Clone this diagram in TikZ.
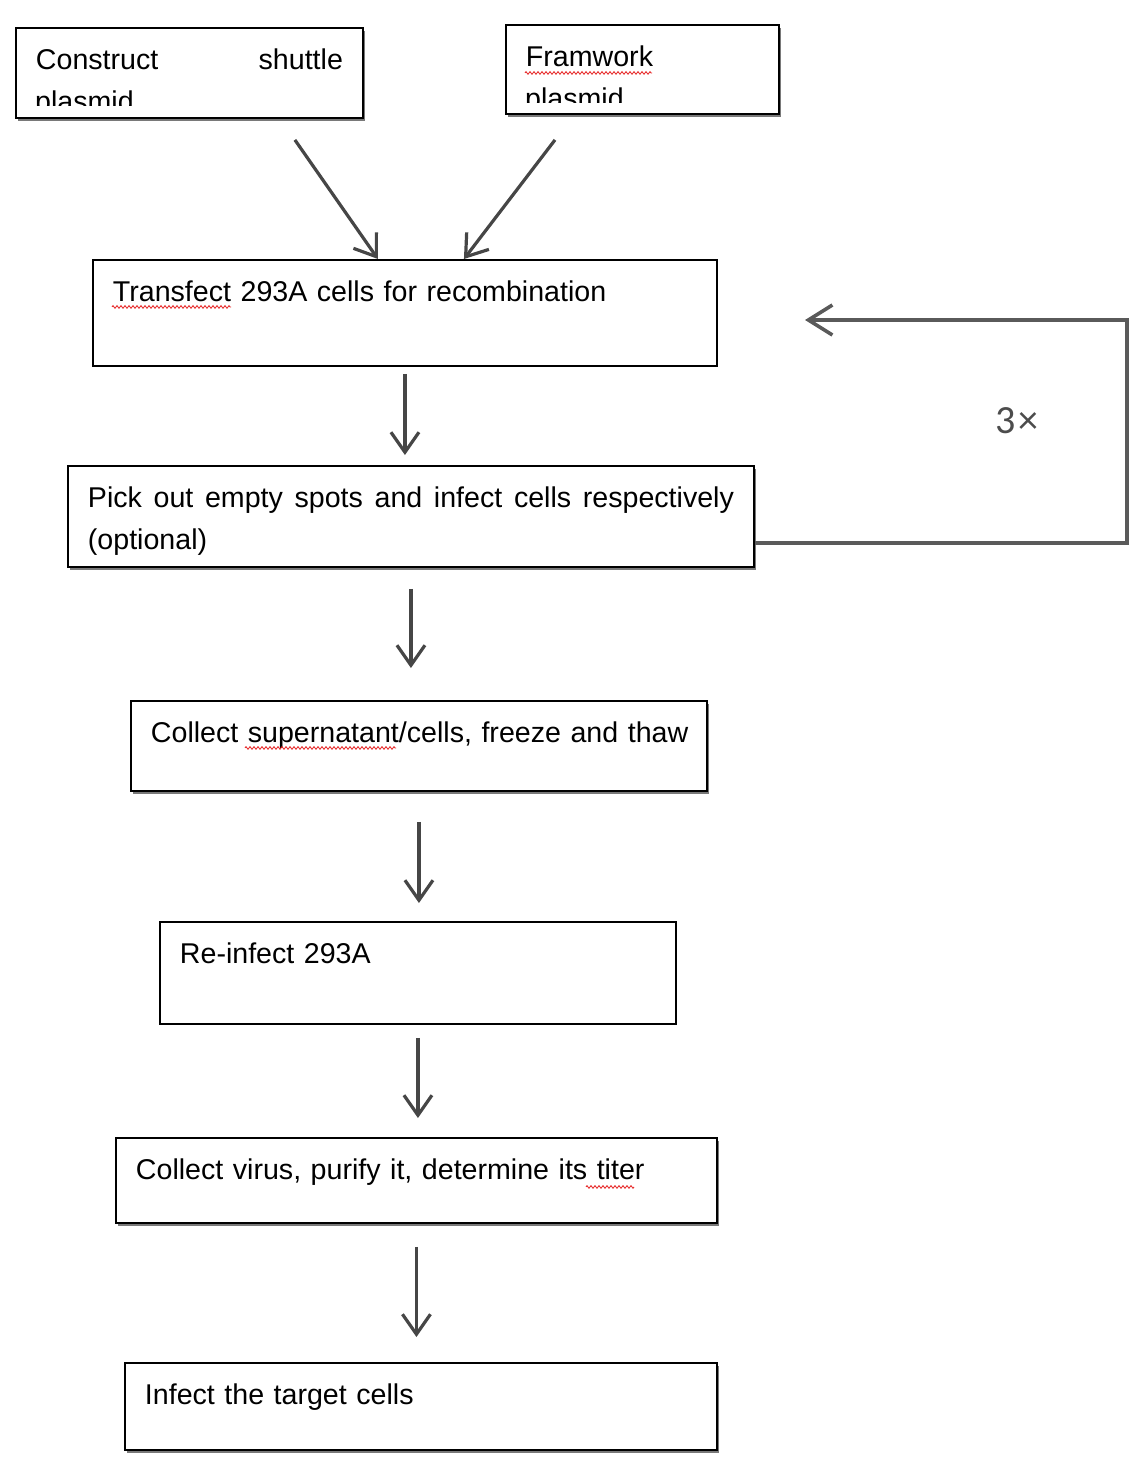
\documentclass[tikz,border=0pt]{standalone}
\usepackage{fontspec}
\setmainfont{Liberation Sans}
\newfontfamily\calibfont{Carlito}
\usetikzlibrary{positioning,calc,arrows.meta,shadows,decorations.pathmorphing}
\definecolor{arrowGray}{RGB}{70,70,70}
\definecolor{loopGray}{RGB}{90,90,90}
\definecolor{spellRed}{RGB}{230,30,30}

\begin{document}
\begin{tikzpicture}[
    x=1pt, y=-1pt,
    font=\fontsize{28.6}{42}\selectfont,
    stepbox/.style={draw, line width=1.9pt, fill=white, anchor=north west, inner xsep=20pt, inner ysep=0pt, text height=42pt, align=left},
    shadowed/.style={drop shadow={shadow xshift=2pt, shadow yshift=-3.5pt, opacity=0.75, fill=black!70}},
    arr/.style={-{Straight Barb[length=20pt, width=28pt]}, line width=3.2pt, draw=arrowGray},
    backarr/.style={-{Straight Barb[length=24pt, width=30pt]}, line width=3.6pt, draw=loopGray},
    squig/.style={draw=spellRed, line width=0.8pt, decorate, decoration={zigzag, amplitude=1.3pt, segment length=4pt}},
]
\useasboundingbox (0,0) rectangle (1148,1478);

\node[stepbox, shadowed, text depth=48pt] (shuttle) at (15,27) {\hbox to 307pt{Construct\hfill shuttle}};
\node[stepbox, shadowed, text width=233pt, text depth=47pt] (frame) at (505,24) {Framwork};
\begin{scope}
  \clip ([shift={(1,1)}]shuttle.north west) rectangle ([shift={(-1,-13)}]shuttle.south east);
  \node[anchor=base west, inner sep=0pt] (shuttle2) at ([shift={(20,42)}]shuttle.base west) {plasmid};
\end{scope}
\begin{scope}
  \clip ([shift={(1,1)}]frame.north west) rectangle ([shift={(-1,-12)}]frame.south east);
  \node[anchor=base west, inner sep=0pt] (frame2) at ([shift={(20,42)}]frame.base west) {plasmid};
\end{scope}

\node[stepbox, text width=584pt, text depth=64pt] (transfect) at (92,259) {Transfect 293A cells for recombination};
\node[stepbox, shadowed, text width=646pt, text depth=59pt, align=justify] (pick) at (67,465) {Pick out empty spots and infect cells respectively (optional)};
\node[stepbox, shadowed, text width=536pt, text depth=48pt] (collect) at (130,700) {\mbox{Collect supernatant/cells, freeze and thaw}};
\node[stepbox, text width=476pt, text depth=60pt] (reinfect) at (159,921) {Re-infect 293A};
\node[stepbox, shadowed, text width=561pt, text depth=43pt] (virus) at (115,1137) {Collect virus, purify it, determine its titer};
\node[stepbox, shadowed, text width=552pt, text depth=45pt] (target) at (124,1362) {Infect the target cells};

% spell-check marks
\draw[squig] ([shift={(20,6)}]frame.base west) -- ++(127,0);
\draw[squig] ([shift={(20,5)}]transfect.base west) -- ++(119,0);
\draw[squig] ([shift={(115,5)}]collect.base west) -- ++(151,0);
\draw[squig] ([shift={(471,7)}]virus.base west) -- ++(48,0);

\draw[arr] ([shift={(-69,21)}]shuttle.south east) -- ([shift={(-27,0)}]transfect.north);
\draw[arr] ([shift={(50,25)}]frame.south west) -- ([shift={(59,0)}]transfect.north);
\draw[arr, shorten <=7pt, shorten >=10pt] (transfect.south) -- (transfect.south |- pick.north);
\draw[arr, shorten <=21pt, shorten >=32pt] (pick.south) -- (pick.south |- collect.north);
\draw[arr, shorten <=30pt, shorten >=18pt] (collect.south) -- (collect.south |- reinfect.north);
\draw[arr, shorten <=13pt, shorten >=19pt] (reinfect.south) -- (reinfect.south |- virus.north);
\draw[arr, shorten <=23pt, shorten >=25pt] (virus.south) -- (virus.south |- target.north);

\coordinate (loopin) at (805,320);
\coordinate (loopcorner) at (1127,320);
\draw[backarr] ([shift={(0,-25)}]pick.south east) -| (loopcorner) -- (loopin);
\node[font=\calibfont\fontsize{40}{40}\selectfont, text=black!70] (times) at (1017,421) {3\kern3pt×};
\end{tikzpicture}
\end{document}
